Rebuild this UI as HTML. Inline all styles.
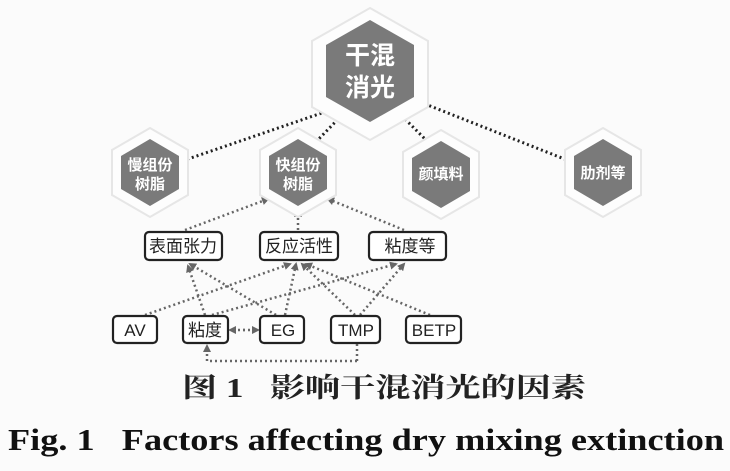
<!DOCTYPE html><html><head><meta charset="utf-8"><style>
body{margin:0;width:730px;height:471px;background:#fbfbfb;overflow:hidden}
svg{display:block}
</style></head><body>
<svg width="730" height="471" viewBox="0 0 730 471" xmlns="http://www.w3.org/2000/svg">
<defs>
<marker id="a" markerWidth="8" markerHeight="8" refX="6" refY="4" orient="auto" markerUnits="userSpaceOnUse"><path d="M0,0 L8,4 L0,8 z" fill="#666"/></marker>
</defs>
<g stroke="#222" stroke-width="3" stroke-dasharray="2,3" fill="none">
<line x1="345" y1="105" x2="185" y2="160"/>
<line x1="345" y1="112" x2="310" y2="148"/>
<line x1="398" y1="112" x2="428" y2="142"/>
<line x1="420" y1="102" x2="572" y2="162"/>
</g>
<g stroke="#666" stroke-width="2.5" stroke-dasharray="2,3" fill="none" marker-end="url(#a)">
<line x1="185" y1="230" x2="268" y2="199"/>
<line x1="298" y1="230" x2="298" y2="211"/>
<line x1="404" y1="230" x2="328" y2="199"/>
<line x1="205" y1="315" x2="188" y2="266"/>
<line x1="276" y1="315" x2="190" y2="264"/>
<line x1="145" y1="315" x2="290" y2="264"/>
<line x1="285" y1="315" x2="296" y2="264"/>
<line x1="355" y1="315" x2="302" y2="264"/>
<line x1="430" y1="315" x2="306" y2="264"/>
<line x1="212" y1="315" x2="396" y2="264"/>
<line x1="360" y1="315" x2="404" y2="264"/>
<line x1="357" y1="344" x2="357" y2="361" marker-end="none"/>
<polyline points="357,361 207,361 207,346"/>
<line x1="243" y1="330" x2="258" y2="330"/>
<line x1="245" y1="330" x2="230" y2="330"/>
</g>
<g stroke="#e6e6e6" stroke-width="2" fill="#fdfdfd">
<polygon points="370,8 428,41 428,107 370,140 312,107 312,41"/>
<polygon points="150,128 188,150 188,195 150,217 112,195 112,150"/>
<polygon points="298,128 336,150 336,195 298,217 260,195 260,150"/>
<polygon points="441,130 479,152 479,197 441,219 403,197 403,152"/>
<polygon points="603,128 641,150 641,195 603,217 565,195 565,150"/>
</g>
<g fill="#7a7a7a">
<polygon points="370,20 414,45 414,97 370,122 326,97 326,45"/>
<polygon points="150,139 179,156 179,189 150,206 121,189 121,156"/>
<polygon points="298,139 327,156 327,189 298,206 269,189 269,156"/>
<polygon points="441,141 470,158 470,191 441,208 412,191 412,158"/>
<polygon points="603,139 632,156 632,189 603,206 574,189 574,156"/>
</g>
<g fill="#fff" font-family="'Liberation Sans','Noto Sans CJK SC',sans-serif" font-weight="bold" text-anchor="middle">
<text x="370" y="64" font-size="25">干混</text>
<text x="370" y="96" font-size="25">消光</text>
<text x="150" y="170" font-size="15">慢组份</text>
<text x="150" y="189" font-size="15">树脂</text>
<text x="298" y="170" font-size="15">快组份</text>
<text x="298" y="189" font-size="15">树脂</text>
<text x="441" y="179" font-size="15">颜填料</text>
<text x="603" y="178" font-size="15">肋剂等</text>
</g>
<g stroke="#222" stroke-width="2.2" fill="#fff">
<rect x="145" y="232" width="77" height="28" rx="4"/>
<rect x="260" y="232" width="78" height="28" rx="4"/>
<rect x="369" y="232" width="77" height="28" rx="4"/>
<rect x="113" y="316" width="44" height="27" rx="4"/>
<rect x="183" y="316" width="45" height="27" rx="4"/>
<rect x="260" y="316" width="44" height="27" rx="4"/>
<rect x="331" y="316" width="49" height="27" rx="4"/>
<rect x="406" y="316" width="55" height="27" rx="4"/>
</g>
<g fill="#222" font-family="'Liberation Sans','Noto Sans CJK SC',sans-serif" font-size="17" text-anchor="middle">
<text x="183" y="252">表面张力</text>
<text x="299" y="252">反应活性</text>
<text x="410" y="252">粘度等</text>
<text x="135" y="336">AV</text>
<text x="205" y="336">粘度</text>
<text x="283" y="336">EG</text>
<text x="356" y="336">TMP</text>
<text x="434" y="336">BETP</text>
</g>
<text x="182" y="397" font-family="'Liberation Serif','Noto Serif CJK SC',serif" font-weight="bold" font-size="27" fill="#222" textLength="404" lengthAdjust="spacingAndGlyphs" xml:space="preserve">图 1   影响干混消光的因素</text>
<text x="8" y="450" font-family="'Liberation Serif',serif" font-weight="bold" font-size="31" fill="#111" textLength="716" lengthAdjust="spacingAndGlyphs" xml:space="preserve">Fig. 1   Factors affecting dry mixing extinction</text>
</svg>
</body></html>
